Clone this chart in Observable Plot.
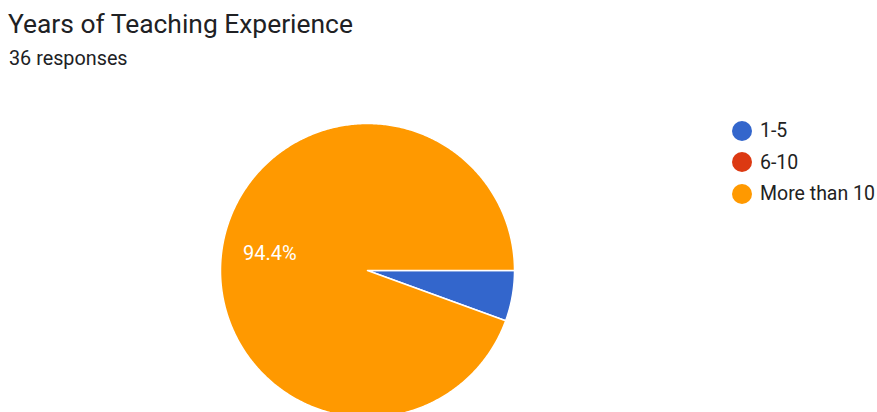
<!DOCTYPE html>
<html>
<head>
<meta charset="utf-8">
<script src="https://cdn.jsdelivr.net/npm/d3@7"></script>
<script src="https://cdn.jsdelivr.net/npm/@observablehq/plot@0.6"></script>
<style>
  html, body { margin: 0; padding: 0; background: #fff; overflow: hidden; }
  body { width: 877px; height: 412px; position: relative; font-family: Roboto, "Noto Sans", sans-serif; color: #202124; }
  #title { position: absolute; left: 8px; top: 9px; font-size: 26.4px; line-height: 30px; white-space: nowrap; }
  #subtitle { position: absolute; left: 9px; top: 48px; font-size: 19.8px; line-height: 22px; white-space: nowrap; }
  #chart { position: absolute; left: 0; top: 80px; }
  #legend { position: absolute; left: 732px; top: 115px; font-size: 19.5px; color: #222; }
  .item { display: flex; align-items: center; height: 31.5px; white-space: nowrap; }
  .sw { width: 20px; height: 20px; border-radius: 50%; margin-right: 8px; }
</style>
</head>
<body>
<div id="title"></div>
<div id="subtitle"></div>
<div id="chart"></div>
<div id="legend"></div>
<script>
const titleText = "Years of Teaching Experience";
const subtitleText = "36 responses";
const categories = ["1-5", "6-10", "More than 10"];
const counts = [2, 0, 34];
const colors = ["#3366cc", "#dc3912", "#ff9900"];

document.getElementById("title").textContent = titleText;
document.getElementById("subtitle").textContent = subtitleText;

const W = 877, H = 332;
const cx = 367, cy = 190, R = 147;
const total = d3.sum(counts);

const arcs = d3.pie().sort(null).startAngle(Math.PI / 2).endAngle(Math.PI / 2 + 2 * Math.PI)(counts);

const pts = [];
const labels = [];
arcs.forEach((a, i) => {
  if (a.value <= 0) return;
  const cat = categories[i];
  pts.push({cat, x: 0, y: 0});
  const n = Math.max(2, Math.ceil((a.endAngle - a.startAngle) / 0.01));
  for (let k = 0; k <= n; k++) {
    const t = a.startAngle + (a.endAngle - a.startAngle) * k / n;
    pts.push({cat, x: Math.sin(t), y: Math.cos(t)});
  }
  const share = a.value / total;
  if (share > 0.08) {
    const m = (a.startAngle + a.endAngle) / 2;
    labels.push({cat, x: 0.675 * Math.sin(m), y: 0.675 * Math.cos(m), text: d3.format(".1%")(share)});
  }
});

const chart = Plot.plot({
  width: W, height: H,
  margin: 0,
  style: {background: "transparent", overflow: "hidden"},
  x: {domain: [-cx / R, (W - cx) / R], range: [0, W], axis: null},
  y: {domain: [-(H - cy) / R, cy / R], range: [H, 0], axis: null},
  color: {domain: categories, range: colors},
  marks: [
    Plot.line(pts, {x: "x", y: "y", z: "cat", fill: "cat", stroke: "white", strokeWidth: 1.5, curve: "linear-closed", strokeLinejoin: "round"}),
    Plot.text(labels, {x: "x", y: "y", text: "text", fill: "white", fontSize: 20, fontFamily: "Roboto, sans-serif"})
  ]
});
document.getElementById("chart").appendChild(chart);

const legend = document.getElementById("legend");
categories.forEach((c, i) => {
  const item = document.createElement("div");
  item.className = "item";
  const sw = document.createElement("div");
  sw.className = "sw";
  sw.style.background = colors[i];
  const lab = document.createElement("span");
  lab.textContent = c;
  item.appendChild(sw);
  item.appendChild(lab);
  legend.appendChild(item);
});
</script>
</body>
</html>
